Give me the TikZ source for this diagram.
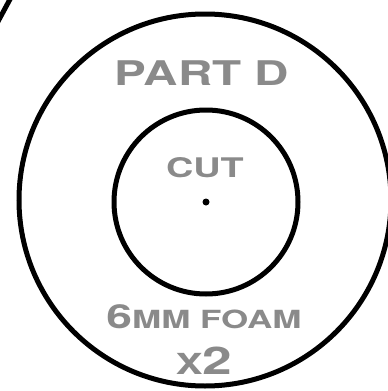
\documentclass[tikz,border=0pt]{standalone}
\usepackage{fontspec}
\newfontfamily\copperfont[FakeStretch=1.4]{TeX Gyre Heros}
\definecolor{labelgray}{RGB}{138,138,138}
\tikzset{
	ring/.style={line width=5pt, draw=black},
	partlabel/.style={text=labelgray, font=\copperfont\bfseries, inner sep=0pt, anchor=base},
}

\begin{document}
\begin{tikzpicture}[x=1pt,y=-1pt]
	\useasboundingbox (0,0) rectangle (388,391);
	\clip (0,0) rectangle (388,391);
	\coordinate (middle) at (206,202);
	\coordinate (outer) at (205,200);
	% foam disc, cut-out and the next part's edge
	\draw[ring] (outer) circle[radius=186pt];
	\draw[ring] (middle) circle[radius=92pt];
	\coordinate (edgea) at (-5,27);
	\coordinate (edgeb) at (15,-10);
	\draw[ring] (edgea) -- (edgeb);
	\fill (middle) circle[radius=3.5pt];
	% labels
	\node[partlabel] (title) at (202,85) {\fontsize{34}{34}\selectfont PART D};
	\node[partlabel] (cut) at (205,177) {\fontsize{27}{27}\selectfont CUT};
	\node[partlabel] (foam) at (204,328) {{\fontsize{33}{33}\selectfont 6}{\fontsize{25}{25}\selectfont MM FOAM}};
	\node[partlabel] (count) at (204,374) {{\fontsize{29}{29}\selectfont X}{\fontsize{38}{38}\selectfont 2}};
\end{tikzpicture}
\end{document}
